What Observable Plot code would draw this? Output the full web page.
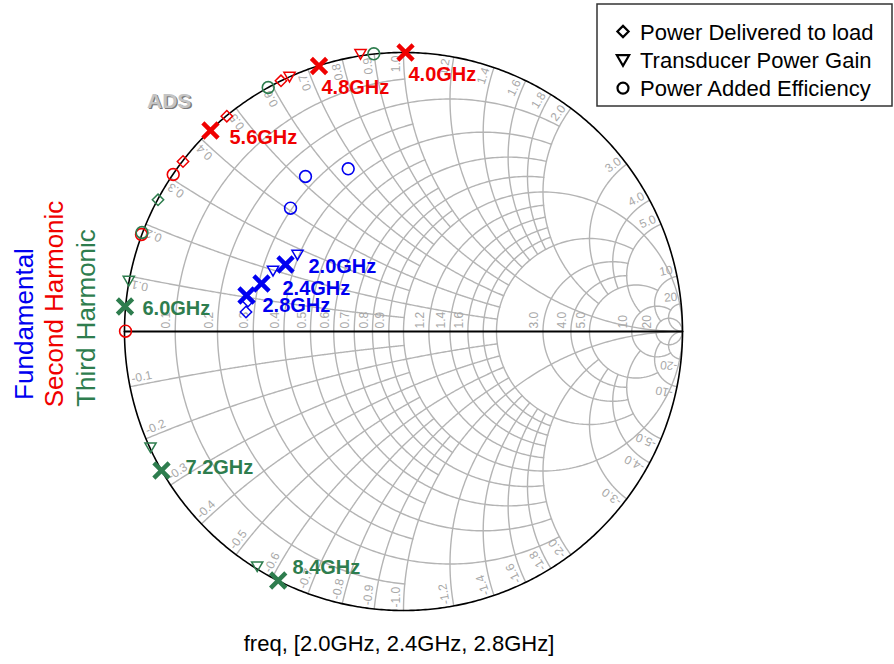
<!DOCTYPE html>
<html><head><meta charset="utf-8">
<script src="https://cdn.jsdelivr.net/npm/d3@7"></script>
<script src="https://cdn.jsdelivr.net/npm/@observablehq/plot@0.6"></script>
<style>
body{margin:0;background:#fff;font-family:Arial,"Liberation Sans",sans-serif}
#wrap{position:relative;width:894px;height:664px;overflow:hidden}
</style></head><body><div id="wrap"></div>
<script>
// ---------- Smith chart grid values (normalised impedance) ----------
const gridR      = [0.1,0.2,0.3,0.4,0.5,0.6,0.7,0.8,0.9,1.0,1.2,1.4,1.6,1.8,2.0,3.0,4.0,5.0,10,20];
const gridRLimit = [1,2,1,2,1,2,1,2,1,Infinity,2,2,2,2,5,5,5,10,20,Infinity];   // |x| reach of each r circle
const gridX      = [0.1,0.2,0.3,0.4,0.5,0.6,0.7,0.8,0.9,1.0,1.2,1.4,1.6,1.8,2.0,3.0,4.0,5.0,10,20];
const gridXLimit = [1,2,1,2,1,2,1,2,1,Infinity,2,2,2,2,5,5,5,10,20,Infinity];   // r reach of each x arc
const tickText   = ["0.1","0.2","0.3","0.4","0.5","0.6","0.7","0.8","0.9","1.0","1.2","1.4","1.6","1.8","2.0","3.0","4.0","5.0","10","20"];
const axisTickShown = [1,1,1,1,1,1,1,1,1,0,1,1,1,0,0,1,1,1,1,1];

// ---------- measured reflection coefficients (Re, Im) ----------
// Fundamental (2.0, 2.4, 2.8 GHz)
const fundFreq   = ["2.0GHz","2.4GHz","2.8GHz"];
const fundSelRe  = [-0.4229,-0.5090,-0.5627];
const fundSelIm  = [ 0.2401, 0.1720, 0.1290];
const fundLblRe  = [-0.3405,-0.4337,-0.5054];
const fundLblIm  = [ 0.2097, 0.1326, 0.0699];
const fundPdelRe = [-0.5573,-0.5645];
const fundPdelIm = [ 0.1093, 0.0699];
const fundGainRe = [-0.3799,-0.4677];
const fundGainIm = [ 0.2760, 0.2186];
const fundPaeRe  = [-0.1982,-0.3513,-0.4050];
const fundPaeIm  = [ 0.5832, 0.5556, 0.4419];
// Second harmonic (4.0, 4.8, 5.6 GHz)
const secFreq    = ["4.0GHz","4.8GHz","5.6GHz"];
const secSelRe   = [ 0.0072,-0.3029,-0.6918];
const secSelIm   = [ 0.9999, 0.9516, 0.7204];
const secLblRe   = [ 0.0179,-0.2939,-0.6237];
const secLblIm   = [ 0.8996, 0.8495, 0.6738];
const secPdelRe  = [-0.4391,-0.6333,-0.7903];
const secPdelIm  = [ 0.8986, 0.7717, 0.6093];
const secGainRe  = [-0.1541,-0.4086];
const secGainIm  = [ 0.9953, 0.9140];
const secPaeRe   = [-0.8254,-0.9391,-0.9964];
const secPaeIm   = [ 0.5627, 0.3477, 0.0011];
// Third harmonic (6.0, 7.2, 8.4 GHz)
const thirdFreq   = ["6.0GHz","7.2GHz","8.4GHz"];
const thirdSelRe  = [-0.9982,-0.8674,-0.4491];
const thirdSelIm  = [ 0.0896,-0.4982,-0.8925];
const thirdLblRe  = [-0.9355,-0.7814,-0.3978];
const thirdLblIm  = [ 0.0609,-0.5090,-0.8674];
const thirdPdelRe = [-0.8799];
const thirdPdelIm = [ 0.4720];
const thirdGainRe = [-0.9846,-0.9068,-0.5244];
const thirdGainIm = [ 0.1828,-0.4147,-0.8412];
const thirdPaeRe  = [-0.1065,-0.4849,-0.9373];
const thirdPaeIm  = [ 0.9953, 0.8746, 0.3548];

const legendText = ["Power Delivered to load","Transducer Power Gain","Power Added Efficiency"];
const seriesText = ["Fundamental","Second Harmonic","Third Harmonic"];
const captionText = "freq, [2.0GHz, 2.4GHz, 2.8GHz]";

// ---------- layout ----------
const W = 894, H = 664, CX = 403, CY = 331, RAD = 279;
const BLUE = "#0000f0", RED = "#f00000", GREEN = "#2e7d4e", GRID = "#b4b4b4", LBL = "#a8a8a8";

function gam(r, x) { const d = (r + 1) * (r + 1) + x * x; return [(r * r + x * x - 1) / d, 2 * x / d]; }

const gridPts = [];
gridR.forEach((r, i) => {
  const t0 = Math.atan(gridRLimit[i]), N = 360;
  for (let k = 0; k <= N; k++) { const t = -t0 + 2 * t0 * k / N; const [a, b] = gam(r, Math.tan(t)); gridPts.push({id: "r" + i, re: a, im: b}); }
});
gridX.forEach((x, i) => {
  const t0 = Math.atan(gridXLimit[i]), N = 260;
  for (const s of [1, -1]) for (let k = 0; k <= N; k++) { const [a, b] = gam(Math.tan(t0 * k / N), s * x); gridPts.push({id: "x" + i + s, re: a, im: b}); }
});
const outerPts = [], axisPts = [];
for (let k = 0; k <= 720; k++) { const t = Math.PI * 2 * k / 720; outerPts.push({re: Math.cos(t), im: Math.sin(t)}); }
for (let k = 0; k <= 2; k++) { const [a, b] = gam([0, 1, 1e12][k], 0); axisPts.push({re: a, im: b}); }

// circumference labels
const upperLbl = [], lowerLbl = [];
gridX.forEach((x, i) => {
  for (const s of [1, -1]) {
    const [a, b] = gam(0, s * x); const th = Math.atan2(b, a);
    const rr = (RAD - 3) / RAD, off = 3.5 / RAD;
    if (s > 0) upperLbl.push({re: rr * a - off * Math.sin(th), im: rr * b + off * Math.cos(th), rot: -th * 180 / Math.PI, text: tickText[i]});
    else lowerLbl.push({re: rr * a + off * Math.sin(th), im: rr * b - off * Math.cos(th), rot: -(th * 180 / Math.PI + 180), text: "-" + tickText[i]});
  }
});
const axisLbl = [];
gridR.forEach((r, i) => { if (axisTickShown[i]) { const [a] = gam(r, 0); axisLbl.push({re: a - 5 / RAD, im: 3 / RAD, text: tickText[i]}); } });

const pts = (re, im, extra) => re.map((v, i) => ({re: v, im: im[i], ...(extra ? {label: extra[i]} : {})}));

const triDown = {draw(ctx, size) { const s = Math.sqrt(size / Math.PI) / 5; ctx.moveTo(-5.6 * s, -4.2 * s); ctx.lineTo(5.6 * s, -4.2 * s); ctx.lineTo(0, 5.4 * s); ctx.closePath(); }};

function series(col, selRe, selIm, lblRe, lblIm, freq, pdRe, pdIm, gRe, gIm, pRe, pIm) {
  return [
    Plot.dot(pts(pdRe, pdIm), {x: "re", y: "im", symbol: "diamond2", r: 5.1, stroke: col, strokeWidth: 1.5, fill: "none"}),
    Plot.dot(pts(gRe, gIm), {x: "re", y: "im", symbol: triDown, r: 5, stroke: col, strokeWidth: 1.5, fill: "none"}),
    Plot.dot(pts(pRe, pIm), {x: "re", y: "im", symbol: "circle", r: 5.9, stroke: col, strokeWidth: 1.6, fill: "none"}),
    Plot.dot(pts(selRe, selIm), {x: "re", y: "im", symbol: "times", r: 7, stroke: col, strokeWidth: 4.4}),
    Plot.text(pts(lblRe, lblIm, freq), {x: "re", y: "im", text: "label", fill: col, fontSize: 20, fontWeight: "bold", textAnchor: "start", lineAnchor: "bottom", fontFamily: "Liberation Sans, Arial, sans-serif"})
  ];
}

const chart = Plot.plot({
  width: W, height: H,
  marginLeft: CX - RAD, marginRight: W - (CX + RAD), marginTop: CY - RAD, marginBottom: H - (CY + RAD),
  x: {domain: [-1, 1], axis: null}, y: {domain: [-1, 1], axis: null},
  style: {fontFamily: "Liberation Sans, Arial, sans-serif", background: "white"},
  marks: [
    Plot.line(gridPts, {x: "re", y: "im", z: "id", stroke: GRID, strokeWidth: 1.4}),
    Plot.line(outerPts, {x: "re", y: "im", stroke: "black", strokeWidth: 1.6}),
    Plot.line(axisPts, {x: "re", y: "im", stroke: "black", strokeWidth: 2}),
    Plot.text(upperLbl, {x: "re", y: "im", text: "text", rotate: "rot", textAnchor: "end", lineAnchor: "bottom", fill: LBL, fontSize: 12}),
    Plot.text(lowerLbl, {x: "re", y: "im", text: "text", rotate: "rot", textAnchor: "start", lineAnchor: "bottom", fill: LBL, fontSize: 12}),
    Plot.text(axisLbl, {x: "re", y: "im", text: "text", rotate: -90, textAnchor: "start", lineAnchor: "bottom", fill: LBL, fontSize: 12}),
    ...series(BLUE, fundSelRe, fundSelIm, fundLblRe, fundLblIm, fundFreq, fundPdelRe, fundPdelIm, fundGainRe, fundGainIm, fundPaeRe, fundPaeIm),
    ...series(RED, secSelRe, secSelIm, secLblRe, secLblIm, secFreq, secPdelRe, secPdelIm, secGainRe, secGainIm, secPaeRe, secPaeIm),
    ...series(GREEN, thirdSelRe, thirdSelIm, thirdLblRe, thirdLblIm, thirdFreq, thirdPdelRe, thirdPdelIm, thirdGainRe, thirdGainIm, thirdPaeRe, thirdPaeIm)
  ]
});
document.getElementById("wrap").appendChild(chart);

// ---------- annotations: ADS tag, legend, side titles, caption ----------
const svg = d3.select(chart);
const ff = "Liberation Sans, Arial, sans-serif";
svg.append("text").attr("x", 148.3).attr("y", 109.3).attr("text-anchor", "start").attr("font-family", ff).attr("font-size", 21).attr("font-weight", "bold").attr("fill", "#7a7a7a").text("ADS");
svg.append("text").attr("x", 147).attr("y", 108).attr("text-anchor", "start").attr("font-family", ff).attr("font-size", 21).attr("font-weight", "bold").attr("fill", "#c4c4c4").text("ADS");

const lg = svg.append("g");
lg.append("rect").attr("x", 597).attr("y", 4).attr("width", 295).attr("height", 102).attr("fill", "white").attr("stroke", "#333").attr("stroke-width", 1.5);
legendText.forEach((t, i) => {
  const yb = 39.5 + i * 28.3;
  let p;
  if (i === 0) p = d3.symbol(d3.symbolDiamond2, 80)();
  else if (i === 1) { const path = d3.path(); triDown.draw(path, Math.PI * 30); p = path.toString(); }
  else p = d3.symbol(d3.symbolCircle, 95)();
  lg.append("path").attr("d", p).attr("transform", `translate(623,${yb - 8})`).attr("fill", "none").attr("stroke", "black").attr("stroke-width", 2.2);
  lg.append("text").attr("x", 640).attr("y", yb).attr("text-anchor", "start").attr("font-family", ff).attr("font-size", 22).attr("fill", "black").text(t);
});

const sideCols = [BLUE, RED, GREEN], sideX = [33, 63, 95], sideY = [324, 304, 318];
seriesText.forEach((t, i) => {
  svg.append("text").attr("transform", `translate(${sideX[i]},${sideY[i]}) rotate(-90)`).attr("text-anchor", "middle")
    .attr("font-family", ff).attr("font-size", 26).attr("fill", sideCols[i]).text(t);
});
svg.append("text").attr("x", 399).attr("y", 651).attr("text-anchor", "middle").attr("font-family", ff).attr("font-size", 22).attr("fill", "black").text(captionText);
</script></body></html>
